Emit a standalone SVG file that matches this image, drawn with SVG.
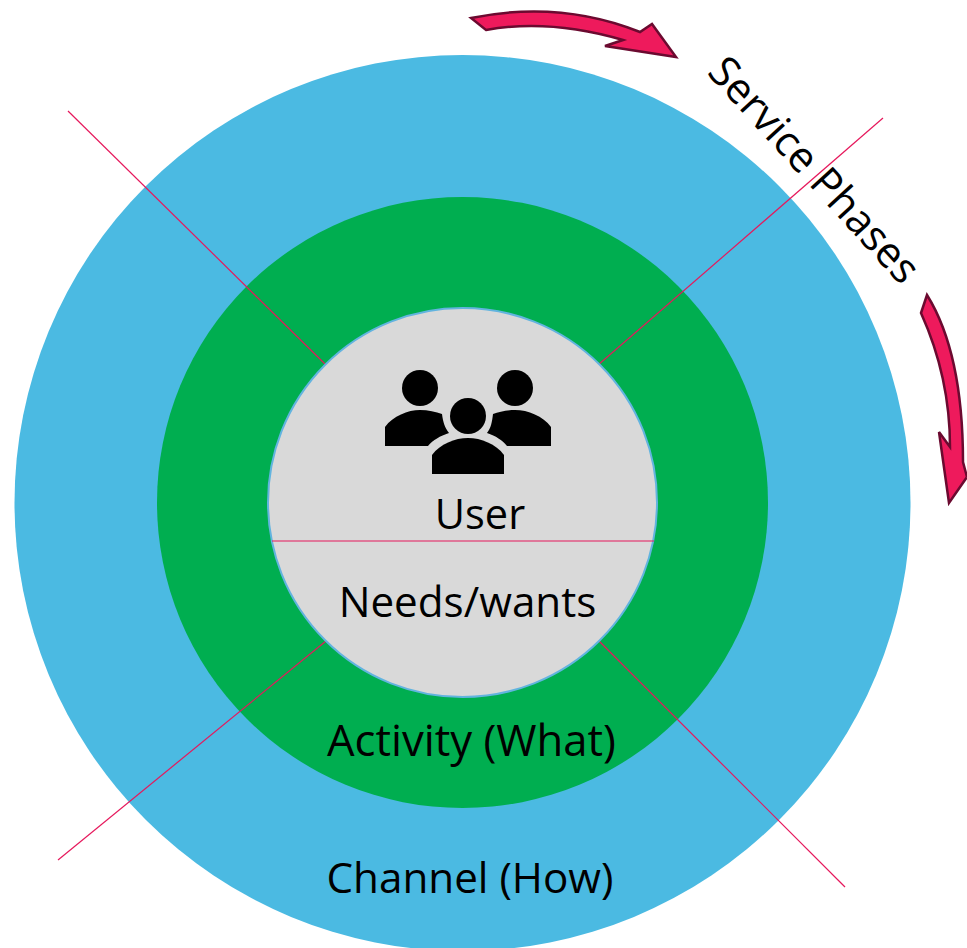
<svg xmlns="http://www.w3.org/2000/svg" width="967" height="948" viewBox="0 0 967 948">
<style>
.t{font-family:"Open Sans","Noto Sans",sans-serif;font-size:42.2px;fill:#000}
.l{stroke:#E6185C;stroke-width:1.2;fill:none}
.a{fill:#EE1A5C;stroke:#6B0A30;stroke-width:2.5;stroke-linejoin:miter}
.i{fill:#000}
</style>
<rect width="967" height="948" fill="#fff"/>
<g id="channel"><circle cx="462.5" cy="503" r="448" fill="#4BBAE2"/><text class="t" x="470" y="893" text-anchor="middle">Channel (How)</text></g>
<g id="activity"><circle cx="462.5" cy="502.5" r="305.5" fill="#00AE50"/><text class="t" x="471.5" y="756" text-anchor="middle" style="font-size:43.6px">Activity (What)</text></g>
<g id="connectors">
<line class="l" x1="68" y1="111" x2="325" y2="364"/>
<line class="l" x1="883" y1="118" x2="598" y2="365"/>
<line class="l" x1="58" y1="860" x2="326" y2="641"/>
<line class="l" x1="845" y1="887" x2="598" y2="640"/>
</g>
<g id="user"><circle cx="462.5" cy="502.5" r="194.5" fill="#D9D9D9" stroke="#62B4DF" stroke-width="2"/>
<line class="l" x1="272" y1="541" x2="654" y2="541"/>
<g id="icon">
<circle class="i" cx="420" cy="388" r="18"/><circle class="i" cx="515" cy="388" r="18"/><circle class="i" cx="468" cy="416" r="18"/>
<path class="i" d="M385 446V427C393 416 408 410 420 410C428 410 436 412 442 414C443 422 445 428 449 433C440 436 433 440 428 446Z"/>
<path class="i" d="M551 446V427C543 416 528 410 515 410C507 410 499 412 493 414C492 422 491 428 487 433C496 436 502 440 507 446Z"/>
<path class="i" d="M432 474V455C440 444 455 438 468 438C481 438 496 444 504 455V474Z"/>
</g>
<text class="t" x="480" y="529" text-anchor="middle" style="font-size:41.5px">User</text>
<text class="t" x="467.5" y="617" text-anchor="middle">Needs/wants</text></g>
<g id="phases"><text class="t" transform="translate(706 73) rotate(47.5)">Service Phases</text>
<path class="a" d="M471 18C530 6 585 10 640 32L652 24L676 57L605 46L623 40C575 26 530 22 486 30Z"/>
<path class="a" d="M927 295L921 313C940 355 950 400 950 447L939 432L949 503L967 477L963 462C963 400 955 340 927 295Z"/>
</g>
</svg>
